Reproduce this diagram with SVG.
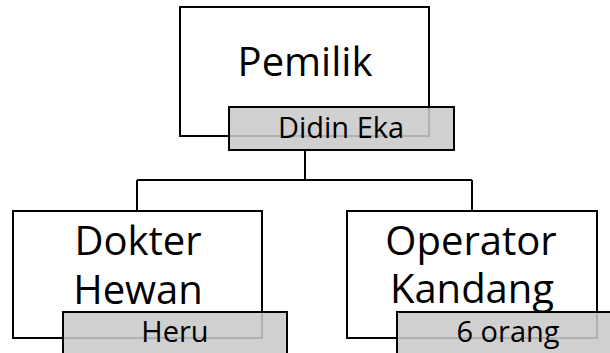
<svg xmlns="http://www.w3.org/2000/svg" width="610" height="353" viewBox="0 0 610 353">
<style>
.box{fill:#ffffff;stroke:#000;stroke-width:2}
.tag{fill:#c9c9c9;fill-opacity:0.875;stroke:#000;stroke-width:2}
.big{font-family:"Open Sans","Liberation Sans",sans-serif;font-size:40px;fill:#000;text-anchor:middle}
.small{font-family:"Open Sans","Liberation Sans",sans-serif;font-size:29px;fill:#000;text-anchor:middle}
.conn{fill:none;stroke:#000;stroke-width:2}
</style>
<rect width="610" height="353" fill="#ffffff"/>
<g id="connectors">
<path class="conn" d="M305,150 V180 M137,180 H472 M137,180 V211 M472,180 V211"/>
</g>
<g id="pemilik">
<rect class="box" x="180" y="7" width="249" height="129"/>
<text class="big" x="305" y="76">Pemilik</text>
<rect class="tag" x="229" y="107" width="225" height="43"/>
<text class="small" x="341" y="138">Didin Eka</text>
</g>
<g id="dokter">
<rect class="box" x="13" y="211" width="249" height="127"/>
<text class="big" x="138" y="255">Dokter</text>
<text class="big" x="138" y="304">Hewan</text>
<rect class="tag" x="63" y="312" width="224" height="50"/>
<text class="small" x="175" y="342">Heru</text>
</g>
<g id="operator">
<rect class="box" x="347" y="211" width="250" height="127"/>
<text class="big" x="471" y="255">Operator</text>
<text class="big" x="472" y="303">Kandang</text>
<rect class="tag" x="397" y="312" width="225" height="50"/>
<text class="small" x="508" y="342">6 orang</text>
</g>
</svg>
